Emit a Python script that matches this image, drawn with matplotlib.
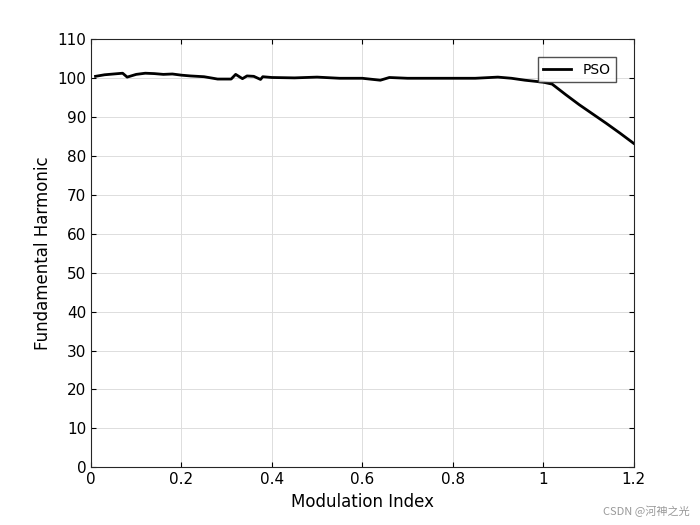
import matplotlib
matplotlib.use("Agg")
import matplotlib.pyplot as plt

mod_index = [0.01, 0.03, 0.05, 0.07, 0.08, 0.10, 0.12, 0.14, 0.16, 0.18, 0.20, 0.22, 0.25,
             0.28, 0.31, 0.32, 0.335, 0.345, 0.36, 0.375, 0.38, 0.40, 0.45, 0.50, 0.55,
             0.60, 0.64, 0.66, 0.70, 0.75, 0.80, 0.85, 0.90, 0.93, 0.96, 1.00, 1.02,
             1.05, 1.08, 1.11, 1.14, 1.17, 1.20]
fundamental = [100.5, 100.9, 101.1, 101.3, 100.3, 101.0, 101.3, 101.2, 101.0, 101.1, 100.8,
               100.6, 100.4, 99.8, 99.8, 101.0, 99.9, 100.6, 100.5, 99.7, 100.4, 100.2,
               100.1, 100.3, 100.0, 100.0, 99.5, 100.2, 100.0, 100.0, 100.0, 100.0, 100.3,
               100.0, 99.5, 99.0, 98.5, 95.8, 93.2, 90.8, 88.4, 85.9, 83.3]

fig, ax = plt.subplots(figsize=(7, 5.25), dpi=100)
fig.subplots_adjust(left=0.13, right=0.905, bottom=0.11, top=0.925)
ax.plot(mod_index, fundamental, color="black", linewidth=2, label="PSO")
ax.set_xlim(0, 1.2)
ax.set_ylim(0, 110)
ax.set_xticks([0, 0.2, 0.4, 0.6, 0.8, 1, 1.2])
ax.set_xticklabels(["0", "0.2", "0.4", "0.6", "0.8", "1", "1.2"])
ax.set_yticks(range(0, 111, 10))
ax.grid(True, color="#dddddd", linewidth=0.7)
ax.tick_params(direction="in", labelsize=11, top=True, right=True)
ax.set_xlabel("Modulation Index", fontsize=12)
ax.set_ylabel("Fundamental Harmonic", fontsize=12)
for s in ax.spines.values():
    s.set_color("#262626")
ax.legend(loc="upper right", fancybox=False, edgecolor="#262626", fontsize=10,
          bbox_to_anchor=(0.98, 0.975))
fig.text(0.985, 0.015, "CSDN @河神之光", ha="right", va="bottom", fontsize=8, color="#999999",
         family=["Noto Sans CJK SC", "DejaVu Sans"])
fig.savefig("out.png")
